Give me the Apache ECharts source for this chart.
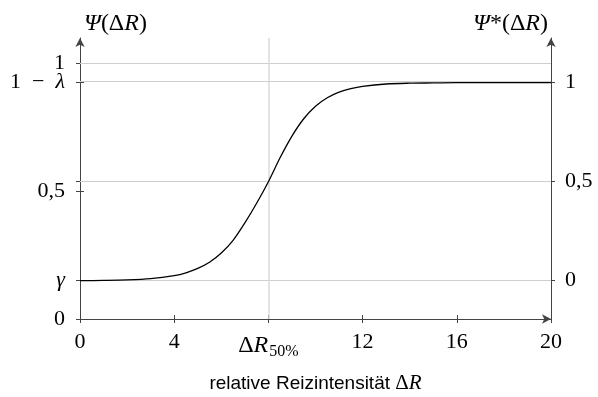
<!DOCTYPE html>
<html>
<head>
<meta charset="utf-8">
<script src="https://cdn.jsdelivr.net/npm/echarts@6/dist/echarts.min.js"></script>
<style>html,body{margin:0;padding:0;background:#fff;}#c{width:598px;height:397px;}</style>
</head>
<body>
<div id="c"></div>
<script>
// ---- data ----
const gammaVal = 0.15;          // guessing rate γ
const upperVal = 0.925;         // 1 − λ
const xTicks = [0, 4, 8, 12, 16, 20];
const leftTickValues = [0, 0.15, 0.5, 0.925, 1];
const leftLabelValuesA = [0, 0.15, 0.5, 0.925];
const leftLabelValuesB = [1];
const leftTickLabels = ['0', '{i|γ}', '0,5', '1\u2002−\u2002{i|λ}', '1'];
const rightTickValues = [0, 0.5, 1];
const rightTickLabels = ['0', '0,5', '1'];
const curveX = [0, 1, 2, 3, 4, 4.5, 5, 5.5, 6, 6.5, 7, 7.5, 8, 8.5, 9, 9.5, 10, 10.5, 11, 11.5, 12, 13, 14, 15, 16, 18, 20];
const curveY = [0.150, 0.151, 0.153, 0.158, 0.170, 0.181, 0.198, 0.222, 0.258, 0.308, 0.376, 0.453, 0.5375, 0.632, 0.716, 0.784, 0.833, 0.866, 0.888, 0.902, 0.911, 0.920, 0.923, 0.924, 0.925, 0.925, 0.925];

const SERIF = '"Liberation Serif", "DejaVu Serif", serif';
const SANS = '"Liberation Sans", Arial, sans-serif';
const AX = '#444';
const GRID = '#cfcfcf';
const FS = 22;
const NFS = 24;
const yMax = 1.1;
const span = upperVal - gammaVal;

const rich = {
  i: { fontFamily: SERIF, fontStyle: 'italic', fontSize: FS, color: '#000' },
  m: { fontFamily: SERIF, fontSize: FS, color: '#000' },
  bi: { fontFamily: SERIF, fontStyle: 'italic', fontSize: 24, color: '#000' },
  bm: { fontFamily: SERIF, fontSize: 24, color: '#000' },
  s: { fontFamily: SERIF, fontSize: 16, color: '#000', padding: [13, 0, 0, 1] }
};
const nameRich = {
  i: { fontFamily: SERIF, fontStyle: 'italic', fontSize: NFS, color: '#000' },
  m: { fontFamily: SERIF, fontSize: NFS, color: '#000' },
  x: { fontFamily: SERIF, fontSize: NFS, color: '#000' },
  u: { fontFamily: SERIF, fontSize: NFS, color: '#000' }
};
const xNameRich = {
  i: { fontFamily: SERIF, fontStyle: 'italic', fontSize: 21, color: '#000' },
  m: { fontFamily: SERIF, fontSize: 21, color: '#000' }
};

function findLabel(vals, labs, v) {
  for (let k = 0; k < vals.length; k++) if (Math.abs(vals[k] - v) < 1e-6) return labs[k];
  return '';
}

const chart = echarts.init(document.getElementById('c'), null, { renderer: 'canvas' });
const pts = curveX.map((x, k) => [x, curveY[k]]);

chart.setOption({
  animation: false,
  backgroundColor: '#fff',
  grid: { left: 80, right: 47, top: 38, bottom: 78, containLabel: false, outerBoundsMode: 'none' },
  xAxis: [
    {
      type: 'value', min: 0, max: 20,
      name: 'relative Reizintensität {m|Δ}{i|R}',
      nameLocation: 'middle', nameGap: 54,
      nameTextStyle: { fontFamily: SANS, fontSize: 19, color: '#000', rich: xNameRich },
      axisLine: { show: true, onZero: false, lineStyle: { color: AX, width: 1 }, symbol: ['none', 'arrow'], symbolSize: [7, 9] },
      axisTick: { show: true, length: 4, customValues: xTicks, lineStyle: { color: AX } },
      axisLabel: {
        show: true, customValues: xTicks, margin: 12, hideOverlap: false,
        fontFamily: SERIF, fontSize: FS, color: '#000', rich: rich,
        formatter: v => (Math.abs(v - 8) < 1e-6 ? '{bm|Δ}{bi|R}{s|50%}' : String(v))
      },
      splitLine: { show: false }
    },
    {
      type: 'value', min: 0, max: 20, position: 'bottom', offset: 0,
      axisLine: { show: false },
      axisTick: { show: true, inside: true, length: 4, customValues: xTicks, lineStyle: { color: AX } },
      axisLabel: { show: false },
      splitLine: { show: false }
    }
  ],
  yAxis: [
    {
      type: 'value', min: 0, max: yMax, position: 'left',
      name: '{i|Ψ}({m|Δ}{i|R})', nameLocation: 'end', nameGap: 2,
      nameTextStyle: { fontFamily: SERIF, fontSize: NFS, color: '#000', align: 'left', padding: [0, 0, 0, 4], rich: nameRich },
      axisLine: { show: true, onZero: false, lineStyle: { color: AX, width: 1 }, symbol: ['none', 'arrow'], symbolSize: [7, 9] },
      axisTick: { show: true, length: 4, customValues: leftTickValues, lineStyle: { color: AX } },
      axisLabel: {
        show: true, customValues: leftLabelValuesA, margin: 15, hideOverlap: false,
        fontFamily: SERIF, fontSize: FS, color: '#000', rich: rich,
        formatter: v => findLabel(leftTickValues, leftTickLabels, v)
      },
      splitLine: { show: false }
    },
    {
      type: 'value', min: -gammaVal / span, max: (yMax - gammaVal) / span, position: 'right',
      name: '{i|Ψ}*({m|Δ}{i|R})', nameLocation: 'end', nameGap: 2,
      nameTextStyle: { fontFamily: SERIF, fontSize: NFS, color: '#000', align: 'right', padding: [0, 3, 0, 0], rich: nameRich },
      axisLine: { show: true, onZero: false, lineStyle: { color: AX, width: 1 }, symbol: ['none', 'arrow'], symbolSize: [7, 9] },
      axisTick: { show: true, length: 4, customValues: rightTickValues, lineStyle: { color: AX } },
      axisLabel: {
        show: true, customValues: rightTickValues, margin: 14, hideOverlap: false,
        fontFamily: SERIF, fontSize: FS, color: '#000',
        formatter: v => findLabel(rightTickValues, rightTickLabels, v)
      },
      splitLine: { show: false }
    },
    {
      type: 'value', min: 0, max: yMax, position: 'left', offset: 0,
      axisLine: { show: false },
      axisTick: { show: true, inside: true, length: 4, customValues: leftTickValues, lineStyle: { color: AX } },
      axisLabel: {
        show: true, customValues: leftLabelValuesB, margin: 15, hideOverlap: false,
        fontFamily: SERIF, fontSize: FS, color: '#000', rich: rich,
        formatter: v => findLabel(leftTickValues, leftTickLabels, v)
      },
      splitLine: { show: false }
    },
    {
      type: 'value', min: -gammaVal / span, max: (yMax - gammaVal) / span, position: 'right', offset: 0,
      axisLine: { show: false },
      axisTick: { show: true, inside: true, length: 4, customValues: rightTickValues, lineStyle: { color: AX } },
      axisLabel: { show: false },
      splitLine: { show: false }
    }
  ],
  series: [
    {
      type: 'line', xAxisIndex: 0, yAxisIndex: 0, z: 1, data: [], silent: true,
      markLine: {
        silent: true, symbol: ['none', 'none'], label: { show: false },
        lineStyle: { color: GRID, width: 1, type: 'solid' },
        data: [
          { yAxis: 1 }, { yAxis: upperVal }, { yAxis: (gammaVal + upperVal) / 2 }, { yAxis: gammaVal },
          { xAxis: 8, lineStyle: { color: '#dadada', width: 1.5 } }
        ]
      }
    },
    {
      type: 'line', xAxisIndex: 0, yAxisIndex: 0, z: 5,
      data: pts, smooth: 0.3, showSymbol: false, symbol: 'none',
      lineStyle: { color: '#000', width: 1.3 }
    }
  ]
});
</script>
</body>
</html>
